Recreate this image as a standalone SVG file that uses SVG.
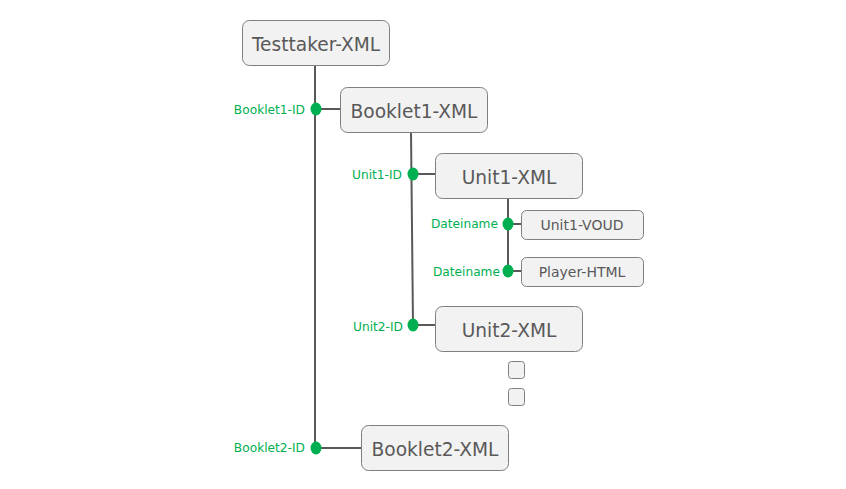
<svg xmlns="http://www.w3.org/2000/svg" width="846" height="489" viewBox="0 0 846 489">
<style>
.box{fill:#f2f2f2;stroke:#7f7f7f;stroke-width:1}
.t{font-family:"DejaVu Sans","Verdana",sans-serif;fill:#595959;text-anchor:middle;dominant-baseline:central}
.big{font-size:18.6px}
.small{font-size:14px}
.lbl{font-family:"DejaVu Sans","Verdana",sans-serif;fill:#00b050;font-size:12.2px;text-anchor:end;dominant-baseline:central}
.ln{stroke:#595959;stroke-width:2;fill:none}
.dot{fill:#00b050}
</style>
<rect width="846" height="489" fill="#fff"/>
<g id="connectors">
<line class="ln" x1="315" y1="65" x2="315" y2="448"/>
<line class="ln" x1="316" y1="109" x2="340" y2="109"/>
<line class="ln" x1="316" y1="448" x2="361" y2="448"/>
<line class="ln" x1="411" y1="132" x2="413" y2="325"/>
<line class="ln" x1="413" y1="174" x2="435" y2="174"/>
<line class="ln" x1="413" y1="325" x2="435" y2="325"/>
<line class="ln" x1="508" y1="198" x2="508" y2="271"/>
<line class="ln" x1="508" y1="224" x2="521" y2="224"/>
<line class="ln" x1="508" y1="271" x2="521" y2="271"/>
<ellipse class="dot" cx="316" cy="109" rx="5.5" ry="6.5"/>
<ellipse class="dot" cx="316" cy="448" rx="5.5" ry="6.5"/>
<ellipse class="dot" cx="413" cy="174" rx="5.5" ry="6.5"/>
<ellipse class="dot" cx="413" cy="325" rx="5.5" ry="6.5"/>
<ellipse class="dot" cx="508" cy="224" rx="5.5" ry="6.5"/>
<ellipse class="dot" cx="508" cy="271" rx="5.5" ry="6.5"/>
<text class="lbl" x="305" y="110">Booklet1-ID</text>
<text class="lbl" x="305" y="448">Booklet2-ID</text>
<text class="lbl" x="402" y="175">Unit1-ID</text>
<text class="lbl" x="403" y="327">Unit2-ID</text>
<text class="lbl" x="498" y="224">Dateiname</text>
<text class="lbl" x="500" y="272">Dateiname</text>
</g>
<g id="testtaker"><rect class="box" x="242.5" y="20.5" width="147" height="45" rx="7"/><text class="t big" x="316" y="44">Testtaker-XML</text></g>
<g id="booklet1"><rect class="box" x="340.5" y="87.5" width="147" height="45" rx="7"/><text class="t big" x="414" y="111">Booklet1-XML</text></g>
<g id="unit1"><rect class="box" x="435.5" y="153.5" width="147" height="45" rx="7"/><text class="t big" x="509" y="177">Unit1-XML</text></g>
<g id="unit1voud"><rect class="box" x="521.5" y="210.5" width="122" height="29" rx="5"/><text class="t small" x="582" y="225">Unit1-VOUD</text></g>
<g id="playerhtml"><rect class="box" x="521.5" y="257.5" width="122" height="29" rx="5"/><text class="t small" x="582" y="272">Player-HTML</text></g>
<g id="unit2"><rect class="box" x="435.5" y="306.5" width="147" height="45" rx="7"/><text class="t big" x="509" y="330">Unit2-XML</text></g>
<g id="sq1"><rect class="box" x="508.5" y="361.5" width="16" height="17" rx="3"/></g>
<g id="sq2"><rect class="box" x="508.5" y="388.5" width="16" height="17" rx="3"/></g>
<g id="booklet2"><rect class="box" x="361.5" y="425.5" width="147" height="45" rx="7"/><text class="t big" x="435" y="449">Booklet2-XML</text></g>
</svg>
